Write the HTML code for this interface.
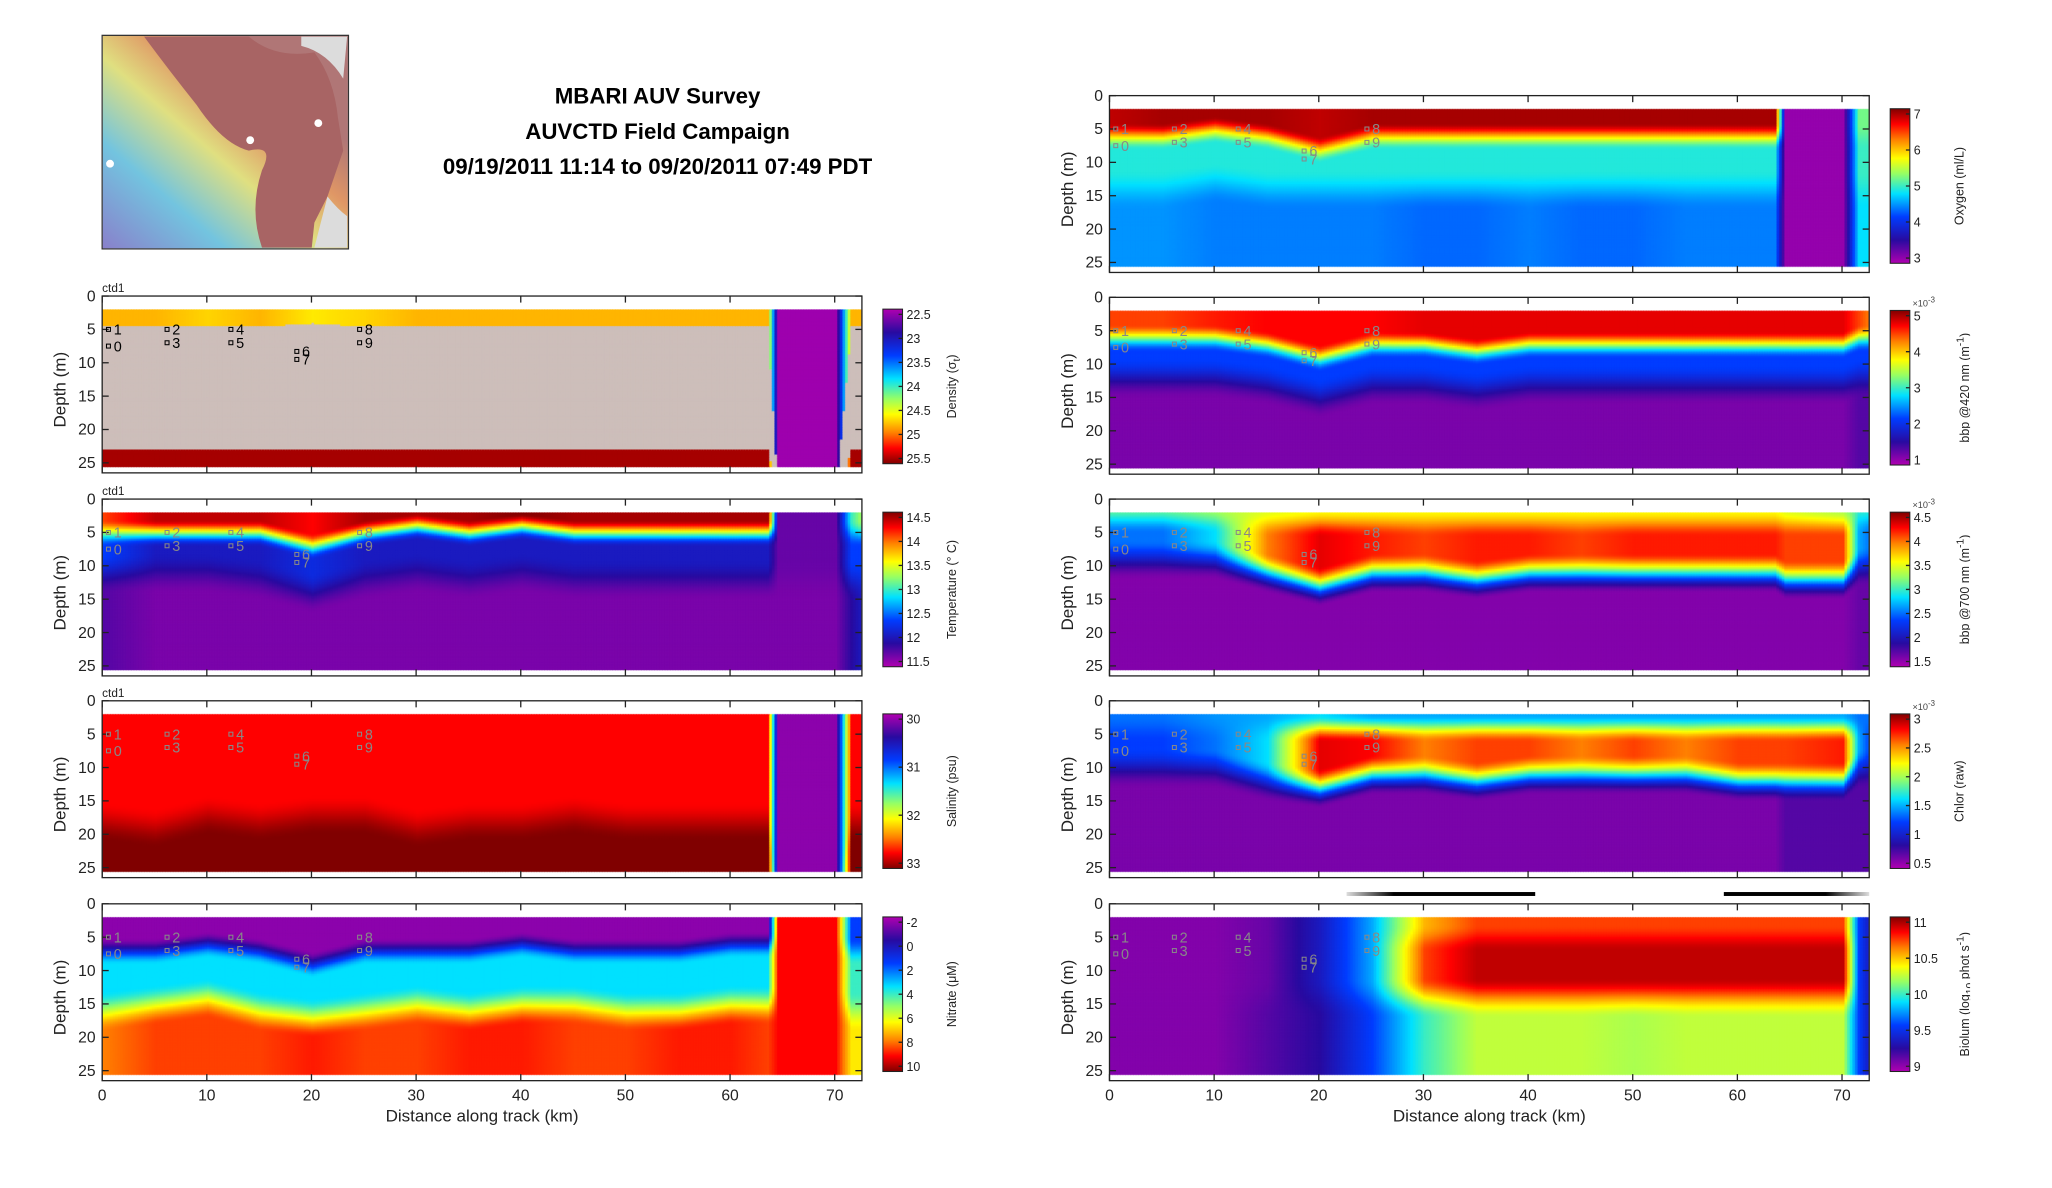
<!DOCTYPE html>
<html><head><meta charset="utf-8"><style>
html,body{margin:0;padding:0;background:#fff;overflow:hidden}
#root{position:absolute;left:0;top:0;width:1552px;height:899px;transform:scale(1.3099);transform-origin:0 0;font-family:"Liberation Sans",sans-serif;}
canvas{position:absolute}
svg{position:absolute;left:0;top:0}
</style></head><body>
<div id="root">
<svg id="svg" width="1552" height="899">
 <g>
  <defs>
   <linearGradient id="mapg" x1="0" y1="1" x2="1" y2="0">
    <stop offset="0" stop-color="#7a70c8"/><stop offset="0.25" stop-color="#60c0e0"/>
    <stop offset="0.45" stop-color="#e0e070"/><stop offset="0.6" stop-color="#e08a50"/><stop offset="0.75" stop-color="#a86464"/>
   </linearGradient>
  </defs>
  <rect x="78" y="27" width="188" height="163" fill="#dcdcdc" stroke="#333" stroke-width="1"/>
  <rect x="78.5" y="27.5" width="187" height="162" fill="url(#mapg)" opacity="0.85"/>
  <path d="M110,28 L190,28 Q210,45 240,40 Q255,60 258,90 L262,115 L250,150 L240,170 L238,189 L200,189 Q190,160 200,130 Q210,110 190,115 Q170,110 150,80 Q130,55 110,28 Z" fill="#a86464"/>
  <path d="M230,35 Q250,40 262,60 L265,28 L230,28 Z" fill="#dcdcdc"/>
  <path d="M250,150 Q258,160 265,165 L265,189 L240,189 Z" fill="#dcdcdc"/>
  <circle cx="84" cy="125" r="3" fill="#fff"/><circle cx="191" cy="107" r="3" fill="#fff"/><circle cx="243" cy="94" r="3" fill="#fff"/>
 </g>
 <g font-weight="bold" font-size="17" text-anchor="middle" fill="#000">
  <text x="502" y="79">MBARI AUV Survey</text>
  <text x="502" y="106">AUVCTD Field Campaign</text>
  <text x="502" y="133">09/19/2011 11:14 to 09/20/2011 07:49 PDT</text>
 </g>
 <g id="axes"></g>
 <g>
  <defs>
   <linearGradient id="bar1"><stop offset="0" stop-color="#ddd"/><stop offset="0.25" stop-color="#000"/><stop offset="1" stop-color="#000"/></linearGradient>
   <linearGradient id="bar2"><stop offset="0" stop-color="#000"/><stop offset="0.7" stop-color="#000"/><stop offset="1" stop-color="#ddd"/></linearGradient>
  </defs>
  <rect x="1028" y="681" width="144" height="3" fill="url(#bar1)"/>
  <rect x="1316" y="681" width="111" height="3" fill="url(#bar2)"/>
 </g>
</svg>
</div>
<script>
// shared distance grid (km) for all section arrays
const dist = [0,5,10,15,20,25,30,35,40,45,50,55,60,63.5,64.5,70,71.5,72.5];

// colour levels (0 = bottom of colormap/purple, 1 = top/dark red)
const densityTop   = [0.75,0.75,0.72,0.75,0.7,0.72,0.75,0.75,0.75,0.75,0.75,0.75,0.75,0.75,0.02,0.02,0.75,0.75];
const densityDeep  = [0.97,0.97,0.97,0.97,0.97,0.97,0.97,0.97,0.97,0.97,0.97,0.97,0.97,0.97,0.02,0.02,0.97,0.97];
const densityUpper = [4.5,4.5,4.5,4.5,4,4.5,4.5,4.5,4.5,4.5,4.5,4.5,4.5,4.5,30,30,4.5,4.5];
const densityLower = [23,23,23,23,23,23,23,23,23,23,23,23,23,23,30,30,23,23];

const tempTop   = [0.85,0.95,0.95,0.95,0.9,0.97,0.97,0.97,1,0.97,0.97,0.97,0.97,0.97,0.08,0.08,0.5,0.6];
const tempMid   = [0.3,0.2,0.2,0.2,0.25,0.2,0.2,0.2,0.2,0.2,0.2,0.2,0.2,0.2,0.08,0.08,0.3,0.3];
const tempDeep  = [0.1,0.06,0.06,0.06,0.06,0.06,0.06,0.06,0.06,0.06,0.06,0.06,0.06,0.06,0.06,0.06,0.15,0.2];
const tempUpper = [5,5,5,5,7,5,4,5,4,5,5,5,5,5,5,5,5,5];
const tempLower = [11,11,11,12,14,12,11,12,11,12,12,12,12,12,12,12,12,12];

const salTop   = [0.9,0.9,0.9,0.9,0.9,0.9,0.9,0.9,0.9,0.9,0.9,0.9,0.9,0.9,0.04,0.04,0.9,0.9];
const salMid   = [0.9,0.9,0.9,0.9,0.9,0.9,0.9,0.9,0.9,0.9,0.9,0.9,0.9,0.9,0.04,0.04,0.9,0.9];
const salDeep  = [1,1,1,1,1,1,1,1,1,1,1,1,1,1,0.04,0.04,1,1];
const salUpper = [30,30,30,30,30,30,30,30,30,30,30,30,30,30,30,30,30,30];
const salLower = [18,19,17,18,17,17,19,18,18,17,18,18,18,18,30,30,18,18];

const no3Top   = [0.04,0.04,0.04,0.04,0.04,0.04,0.04,0.04,0.04,0.04,0.04,0.04,0.04,0.04,0.9,0.9,0.3,0.3];
const no3Mid   = [0.45,0.45,0.45,0.45,0.45,0.45,0.45,0.45,0.45,0.45,0.45,0.45,0.45,0.45,0.9,0.9,0.5,0.5];
const no3Deep  = [0.8,0.85,0.85,0.85,0.88,0.85,0.85,0.88,0.88,0.85,0.85,0.88,0.88,0.85,0.9,0.9,0.7,0.7];
const no3Upper = [7,7,6,7,9,7,7,7,6,7,7,7,6,6,6,6,7,7];
const no3Lower = [16,15,14,16,17,16,15,16,15,15,16,16,15,15,15,15,16,16];

const oxyTop   = [0.95,0.97,0.97,0.97,0.95,0.97,0.97,0.97,0.97,0.97,0.97,0.97,0.97,0.97,0.03,0.03,0.55,0.55];
const oxyMid   = [0.48,0.48,0.48,0.48,0.48,0.48,0.48,0.48,0.48,0.48,0.48,0.48,0.48,0.48,0.03,0.03,0.5,0.5];
const oxyDeep  = [0.38,0.38,0.36,0.36,0.36,0.36,0.34,0.34,0.36,0.34,0.34,0.36,0.36,0.36,0.03,0.03,0.45,0.45];
const oxyUpper = [6,6,5,6,8,6,6,6,6,6,6,6,6,6,6,6,6,6];
const oxyLower = [14,14,13,14,14,14,14,14,14,14,14,14,14,14,14,14,14,14];

const b420Top   = [0.85,0.85,0.88,0.9,0.9,0.9,0.92,0.92,0.92,0.92,0.92,0.92,0.92,0.92,0.92,0.92,0.85,0.8];
const b420Mid   = [0.3,0.3,0.3,0.3,0.3,0.3,0.3,0.3,0.3,0.3,0.3,0.3,0.3,0.3,0.3,0.3,0.3,0.3];
const b420Deep  = [0.06,0.06,0.06,0.06,0.06,0.06,0.06,0.06,0.06,0.06,0.06,0.06,0.06,0.06,0.06,0.06,0.1,0.1];
const b420Upper = [6,6,6,7,9,7,7,8,7,7,7,7,7,7,7,7,6,6];
const b420Lower = [12,12,12,13,15,13,13,14,13,13,13,13,13,13,13,13,12,12];

const b700Top   = [0.55,0.55,0.6,0.65,0.68,0.68,0.68,0.68,0.68,0.68,0.68,0.68,0.68,0.68,0.65,0.6,0.5,0.5];
const b700Mid   = [0.35,0.35,0.45,0.8,0.92,0.88,0.85,0.88,0.88,0.85,0.88,0.88,0.88,0.88,0.85,0.85,0.4,0.35];
const b700Deep  = [0.05,0.05,0.05,0.05,0.05,0.05,0.05,0.05,0.05,0.05,0.05,0.05,0.05,0.05,0.05,0.05,0.08,0.08];
const b700Upper = [3,3,3,3.5,3.5,3.5,3.5,3.5,3.5,3.5,3.5,3.5,3.5,3.5,3.5,3.5,3,3];
const b700Lower = [9,9,9,11,13,11,11,12,11,11,11,11,11,11,12,12,10,10];

const chlTop   = [0.35,0.35,0.38,0.4,0.45,0.4,0.4,0.4,0.4,0.4,0.4,0.4,0.4,0.4,0.4,0.4,0.35,0.35];
const chlMid   = [0.3,0.3,0.35,0.45,0.92,0.9,0.8,0.85,0.85,0.8,0.85,0.8,0.85,0.85,0.85,0.88,0.4,0.3];
const chlDeep  = [0.06,0.06,0.06,0.06,0.06,0.06,0.06,0.06,0.06,0.06,0.06,0.06,0.06,0.06,0.1,0.1,0.1,0.1];
const chlUpper = [4,4,4,4,4,4,4,4,4,4,4,4,4,4,4,4,4,4];
const chlLower = [10,10,10,12,13,11,11,12,11,11,11,11,12,12,12,12,10,10];

const bioTop   = [0.05,0.05,0.05,0.08,0.2,0.4,0.75,0.85,0.85,0.85,0.85,0.85,0.85,0.85,0.85,0.85,0.3,0.2];
const bioMid   = [0.05,0.05,0.05,0.08,0.2,0.4,0.85,0.95,0.95,0.95,0.95,0.95,0.95,0.95,0.95,0.95,0.3,0.2];
const bioDeep  = [0.05,0.05,0.05,0.1,0.15,0.3,0.5,0.62,0.62,0.62,0.6,0.62,0.62,0.62,0.62,0.62,0.3,0.2];
const bioUpper = [5,5,5,5,5,5,5,5,5,5,5,5,5,5,5,5,5,5];
const bioLower = [14,14,14,14,14,14,14,14,14,14,14,14,14,14,14,14,14,14];

const depthTicks = [0,5,10,15,20,25];
const distTicks = [0,10,20,30,40,50,60,70];
const stations = [["1",0.6,5],["0",0.6,7.5],["2",6.2,5],["3",6.2,7],["4",12.3,5],["5",12.3,7],["6",18.6,8.3],["7",18.6,9.5],["8",24.6,5],["9",24.6,7]];

const cbDensity = ["22.5","23","23.5","24","24.5","25","25.5"];
const cbTemp = ["14.5","14","13.5","13","12.5","12","11.5"];
const cbSal = ["30","31","32","33"];
const cbNo3 = ["-2","0","2","4","6","8","10"];
const cbOxy = ["7","6","5","4","3"];
const cb420 = ["5","4","3","2","1"];
const cb700 = ["4.5","4","3.5","3","2.5","2","1.5"];
const cbChl = ["3","2.5","2","1.5","1","0.5"];
const cbBio = ["11","10.5","10","9.5","9"];

const stops=[[0,[176,0,176]],[0.15,[40,10,160]],[0.3,[0,60,255]],[0.45,[0,225,255]],[0.58,[150,255,100]],[0.68,[255,255,0]],[0.8,[255,128,0]],[0.9,[255,0,0]],[1,[128,0,0]]];
function cmap(v){v=Math.max(0,Math.min(1,v));for(let i=1;i<stops.length;i++){if(v<=stops[i][0]){const a=stops[i-1],b=stops[i];const t=(v-a[0])/(b[0]-a[0]);return a[1].map((c,k)=>Math.round(c+(b[1][k]-c)*t));}}return stops[stops.length-1][1];}
function interp(arr,x){for(let i=1;i<dist.length;i++){if(x<=dist[i]){const t=(x-dist[i-1])/(dist[i]-dist[i-1]);return arr[i-1]+(arr[i]-arr[i-1])*t;}}return arr[arr.length-1];}
function ss(a,b,x){const t=Math.max(0,Math.min(1,(x-a)/(b-a)));return t*t*(3-2*t);}

const panels=[
 {id:"density",x:78,y:226,top:densityTop,deep:densityDeep,up:densityUpper,lo:densityLower,gray:true,cb:cbDensity,cbRev:true,label:"Density (σ<sub>t</sub>)",ctd:true,st:"#000",xl:false},
 {id:"temperature",x:78,y:381,top:tempTop,mid:tempMid,deep:tempDeep,up:tempUpper,lo:tempLower,cb:cbTemp,label:"Temperature (° C)",ctd:true,st:"#888"},
 {id:"salinity",x:78,y:535,top:salTop,mid:salMid,deep:salDeep,up:salUpper,lo:salLower,cb:cbSal,cbRev:true,label:"Salinity (psu)",ctd:true,st:"#888"},
 {id:"nitrate",x:78,y:690,top:no3Top,mid:no3Mid,deep:no3Deep,up:no3Upper,lo:no3Lower,cb:cbNo3,cbRev:true,label:"Nitrate (μM)",st:"#888",xl:true},
 {id:"oxygen",x:847,y:73,top:oxyTop,mid:oxyMid,deep:oxyDeep,up:oxyUpper,lo:oxyLower,cb:cbOxy,label:"Oxygen (ml/L)",st:"#888"},
 {id:"bbp420",x:847,y:227,top:b420Top,mid:b420Mid,deep:b420Deep,up:b420Upper,lo:b420Lower,cb:cb420,label:"bbp @420 nm (m<sup>-1</sup>)",exp:true,st:"#888"},
 {id:"bbp700",x:847,y:381,top:b700Top,mid:b700Mid,deep:b700Deep,up:b700Upper,lo:b700Lower,cb:cb700,label:"bbp @700 nm (m<sup>-1</sup>)",exp:true,st:"#888"},
 {id:"chlorophyll",x:847,y:535,top:chlTop,mid:chlMid,deep:chlDeep,up:chlUpper,lo:chlLower,cb:cbChl,label:"Chlor (raw)",exp:true,st:"#888"},
 {id:"biolum",x:847,y:690,top:bioTop,mid:bioMid,deep:bioDeep,up:bioUpper,lo:bioLower,cb:cbBio,label:"Biolum (log<sub>10</sub> phot s<sup>-1</sup>)",st:"#888",xl:true}
];
const W=580,H=135,KM=72.6,ZMAX=26.5;
const root=document.getElementById('root');
const ax=document.getElementById('axes');
const NS="http://www.w3.org/2000/svg";
function sv(tag,at,parent){const e=document.createElementNS(NS,tag);for(const k in at)e.setAttribute(k,at[k]);(parent||ax).appendChild(e);return e;}

panels.forEach(p=>{
 const sx=d=>p.x+d/KM*W, sy=z=>p.y+z/ZMAX*H;
 const cv=document.createElement('canvas');
 
 
 const SC=2;cv.width=W*SC;cv.height=H*SC;cv.style.left=p.x+'px';cv.style.top=p.y+'px';cv.style.width=W+'px';cv.style.height=H+'px';
 root.insertBefore(cv,root.firstChild.nextSibling);
 const c=cv.getContext('2d');
 const dx=0.25,dz=0.25;
 for(let d=0;d<72.5;d+=dx){
  const t=interp(p.top,d),dp=interp(p.deep,d),u=interp(p.up,d),l=interp(p.lo,d),m=p.mid?interp(p.mid,d):null;
  for(let z=2;z<25.5;z+=dz){
   let col;
   if(p.gray){
     if(z<u) col=cmap(t); else if(z<l) col=[205,190,186]; else col=cmap(dp);
   } else {
     let v=t+(m-t)*ss(u-2,u+2,z);
     v=v+(dp-v)*ss(l-3,l+3,z);
     col=cmap(v);
   }
   c.fillStyle='rgb('+col.join(',')+')';
   c.fillRect((sx(d)-p.x)*SC,(sy(z)-p.y)*SC,Math.ceil(dx/KM*W*SC)+1,Math.ceil(dz/ZMAX*H*SC)+1);
  }
 }
 const g=sv('g',{});
 
 
 sv('rect',{x:p.x,y:p.y,width:W,height:H,fill:'none',stroke:'#222','stroke-width':1},g);
 depthTicks.forEach(z=>{
  sv('line',{x1:p.x,x2:p.x+5,y1:sy(z),y2:sy(z),stroke:'#222'},g);
  sv('line',{x1:p.x+W,x2:p.x+W-5,y1:sy(z),y2:sy(z),stroke:'#222'},g);
  const t=sv('text',{x:p.x-5,y:sy(z)+4,'font-size':12,'text-anchor':'end',fill:'#222'},g);t.textContent=z;
  
  
 });
 distTicks.forEach(d=>{
  sv('line',{x1:sx(d),x2:sx(d),y1:p.y,y2:p.y+5,stroke:'#222'},g);
  sv('line',{x1:sx(d),x2:sx(d),y1:p.y+H,y2:p.y+H-5,stroke:'#222'},g);
  if(p.xl){const t=sv('text',{x:sx(d),y:p.y+H+15,'font-size':12,'text-anchor':'middle',fill:'#222'},g);t.textContent=d;
   
   }
 });
 const yl=sv('text',{x:0,y:0,'font-size':13,'text-anchor':'middle',fill:'#222',transform:`translate(${p.x-28},${p.y+H/2+4}) rotate(-90)`},g);yl.textContent='Depth (m)';
 
 
 if(p.xl){const t=sv('text',{x:p.x+290,y:p.y+H+31,'font-size':13,'text-anchor':'middle',fill:'#222'},g);t.textContent='Distance along track (km)';
  
  }
 if(p.ctd){const t=sv('text',{x:p.x,y:p.y-3,'font-size':9,fill:'#222'},g);t.textContent='ctd1';
  
  }
 stations.forEach(s=>{
  sv('rect',{x:sx(s[1])-1.5,y:sy(s[2])-1.5,width:3,height:3,fill:'none',stroke:p.st,'stroke-width':0.8},g);
  const t=sv('text',{x:sx(s[1])+4,y:sy(s[2])+4,'font-size':11,fill:p.st},g);t.textContent=s[0];
  
  
 });
 // colorbar
 const cx=p.x+W+16,cy0=p.y+10,ch=118,cw=15;
 const gid='cb'+p.id;
 const df=sv('defs',{},g);const lg=sv('linearGradient',{id:gid,x1:0,y1:p.cbRev?0:1,x2:0,y2:p.cbRev?1:0},df);
 stops.forEach(s=>sv('stop',{offset:s[0],'stop-color':'rgb('+s[1].join(',')+')'},lg));
 const cr=sv('rect',{x:cx,y:cy0,width:cw,height:ch,fill:`url(#${gid})`,stroke:'#222','stroke-width':0.8},g);
 
 
 p.cb.forEach((lab,i)=>{
  const yy=cy0+4+i*(ch-8)/(p.cb.length-1);
  sv('line',{x1:cx+cw-3,x2:cx+cw,y1:yy,y2:yy,stroke:'#222'},g);
  const t=sv('text',{x:cx+cw+3,y:yy+3.5,'font-size':9.5,fill:'#222'},g);t.textContent=lab;
  
  
 });
 if(p.exp){const t=sv('text',{x:cx+cw+2,y:cy0-3,'font-size':7,fill:'#444'},g);t.innerHTML='×10<tspan dy="-3" font-size="6">-3</tspan>';}
 const fo=sv('foreignObject',{x:0,y:0,width:ch+20,height:14,transform:`translate(${cx+cw+32},${cy0+ch/2+ (ch+20)/2}) rotate(-90)`},g);
 const dv=document.createElement('div');
 dv.style.cssText='font:9.5px "Liberation Sans",sans-serif;text-align:center;color:#222;white-space:nowrap;line-height:14px';
 dv.innerHTML=p.label;
 
 
 fo.appendChild(dv);
});
</script>
</body></html>
